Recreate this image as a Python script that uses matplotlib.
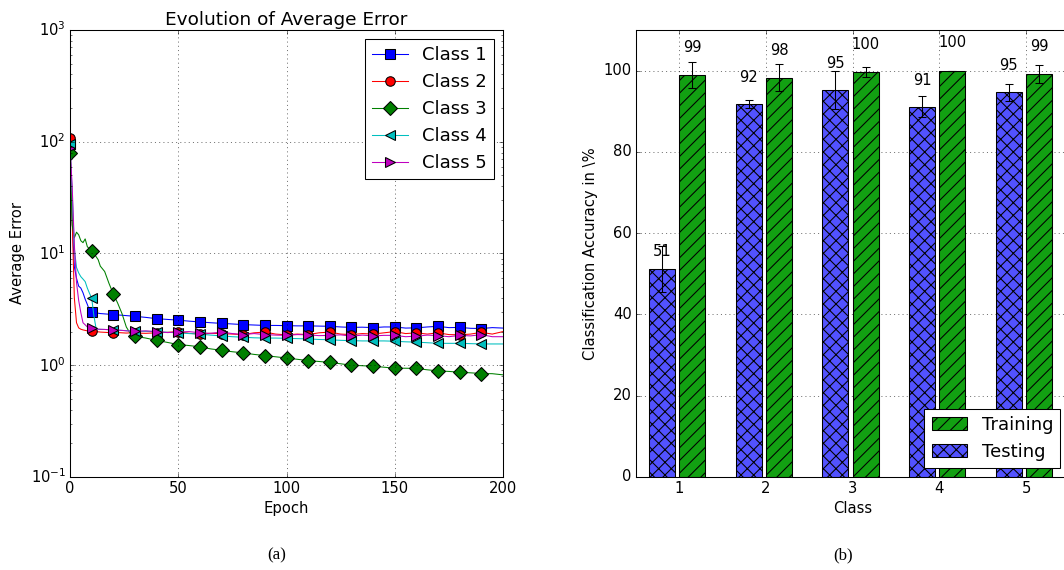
import matplotlib
matplotlib.use("Agg")
import matplotlib.pyplot as plt

plt.style.use("classic")
plt.rcParams.update({
    "font.family": ["DejaVu Sans"],
    "figure.facecolor": "white",
    "savefig.facecolor": "white",
    "hatch.linewidth": 1.0,
})

# ── data: average error per epoch ────────────────────────────────
epochs = [0, 1, 2, 3, 4, 5, 6, 7, 8, 9, 10, 11, 12, 13, 14, 16, 18, 20, 22, 24, 26, 28, 30,
          35, 40, 45, 50, 55, 60, 65, 70, 75, 80, 85, 90, 95, 100, 105, 110, 115, 120,
          125, 130, 135, 140, 145, 150, 155, 160, 165, 170, 175, 180, 185, 190, 195, 200]

err_class1 = [95, 20, 7.6, 6.0, 5.1, 4.9, 4.45, 3.9, 3.5, 3.1, 2.97, 2.95, 2.93, 2.92, 2.9,
              2.88, 2.86, 2.84, 2.82, 2.8, 2.78, 2.76, 2.74,
              2.68, 2.61, 2.57, 2.53, 2.48, 2.44, 2.4, 2.37, 2.34, 2.31, 2.29, 2.27, 2.27,
              2.26, 2.25, 2.25, 2.24, 2.23, 2.2, 2.18, 2.19, 2.17, 2.2, 2.2, 2.15, 2.16,
              2.2, 2.23, 2.17, 2.18, 2.14, 2.13, 2.17, 2.15]
err_class2 = [108, 20, 4.0, 2.4, 2.16, 2.1, 2.07, 2.05, 2.03, 2.02, 2.02, 2.0, 2.0, 1.99, 1.98,
              1.97, 1.96, 1.95, 1.96, 1.95, 1.94, 1.95, 1.94,
              1.93, 1.95, 1.97, 2.0, 1.93, 1.9, 1.93, 1.92, 1.9, 1.88, 1.95, 1.98, 1.9,
              1.87, 1.9, 1.88, 1.95, 1.98, 1.9, 1.88, 1.92, 1.9, 1.95, 2.0, 1.92, 1.95,
              1.9, 1.95, 1.88, 1.87, 1.9, 1.97, 1.9, 2.0]
err_class3 = [79, 18, 13.8, 15.5, 14.7, 13.0, 12.5, 13.5, 11.5, 11.0, 10.6, 10.0, 9.4, 8.8, 7.7,
              6.9, 5.4, 4.34, 3.6, 2.9, 2.2, 1.9, 1.82,
              1.75, 1.67, 1.6, 1.53, 1.5, 1.46, 1.4, 1.36, 1.32, 1.29, 1.25, 1.22, 1.19,
              1.16, 1.13, 1.1, 1.08, 1.06, 1.03, 1.0, 0.99, 0.98, 0.96, 0.94, 0.94, 0.935,
              0.91, 0.89, 0.88, 0.866, 0.855, 0.843, 0.84, 0.82]
err_class4 = [95, 35, 11, 7.5, 6.7, 6.2, 5.9, 5.6, 4.9, 4.4, 4.0, 2.8, 2.15, 2.1, 2.09,
              2.09, 2.08, 2.08, 2.06, 2.05, 2.04, 2.03, 2.02,
              2.01, 2.0, 1.97, 1.95, 1.92, 1.9, 1.86, 1.83, 1.8, 1.78, 1.76, 1.75, 1.75,
              1.74, 1.73, 1.72, 1.7, 1.69, 1.67, 1.66, 1.65, 1.65, 1.65, 1.64, 1.62, 1.61,
              1.59, 1.57, 1.57, 1.57, 1.56, 1.55, 1.55, 1.55]
err_class5 = [88, 40, 12, 5.5, 3.8, 2.95, 2.4, 2.3, 2.2, 2.17, 2.14, 2.12, 2.11, 2.1, 2.1,
              2.09, 2.08, 2.08, 2.06, 2.05, 2.03, 2.02, 2.01,
              2.03, 2.0, 1.96, 1.98, 2.0, 1.95, 1.93, 1.98, 1.92, 1.88, 1.92, 1.88, 1.86,
              1.85, 1.88, 1.87, 1.84, 1.85, 1.87, 1.82, 1.86, 1.83, 1.85, 1.85, 1.8, 1.82,
              1.86, 1.84, 1.8, 1.85, 1.83, 1.88, 1.8, 1.8]

series_labels = ["Class 1", "Class 2", "Class 3", "Class 4", "Class 5"]

# ── data: classification accuracy ────────────────────────────────
classes = [1, 2, 3, 4, 5]
test_acc = [51.2, 91.8, 95.2, 91.1, 94.7]
test_err = [5.6, 1.0, 4.7, 2.6, 2.1]
train_acc = [98.8, 98.3, 99.7, 100.0, 99.2]
train_err = [3.2, 3.4, 1.2, 0.0, 2.3]

# ── figure ───────────────────────────────────────────────────────
fig = plt.figure(figsize=(14.0, 7.5), dpi=76)
ax1 = fig.add_axes([0.0658, 0.1632, 0.4070, 0.7842])
ax2 = fig.add_axes([0.5977, 0.1632, 0.4074, 0.7842])

# 左图：误差曲线
styles = [("b", "s"), ("r", "o"), ("g", "D"), ("c", "<"), ("m", ">")]
mark_idx = [i for i, e in enumerate(epochs) if e % 10 == 0 and e < 200]
for ys, lab, (col, mk) in zip([err_class1, err_class2, err_class3, err_class4, err_class5],
                              series_labels, styles):
    ax1.plot(epochs, ys, color=col, marker=mk, markersize=9, markeredgecolor="k",
             markeredgewidth=1.0, linewidth=1.0, markevery=mark_idx, label=lab)

ax1.set_yscale("log")
ax1.set_xlim(0, 200)
ax1.set_ylim(0.1, 1000)
ax1.set_xticks([0, 50, 100, 150, 200])
ax1.grid(True, which="major", linestyle=":", color="k")
ax1.tick_params(labelsize=14)
ax1.set_xlabel("Epoch", fontsize=14)
ax1.set_ylabel("Average Error", fontsize=14)
ax1.set_title("Evolution of Average Error", fontsize=17.5)
ax1.legend(loc="upper right", numpoints=1, fontsize=17)

# 右图：分类准确率
w = 0.3
test_x = [c - 0.35 for c in classes]
train_x = [c for c in classes]
b_test = ax2.bar(test_x, test_acc, w, align="edge", color="#5252ff", edgecolor="k",
                 linewidth=1.0, hatch="xx", label="Testing", zorder=2)
b_train = ax2.bar(train_x, train_acc, w, align="edge", color="#12a012", edgecolor="k",
                  linewidth=1.0, hatch="//", label="Training", zorder=2)
ax2.errorbar([x + w / 2 for x in test_x], test_acc, yerr=test_err, fmt="none",
             ecolor="k", elinewidth=1.0, capsize=3.5, capthick=1.0, zorder=3)
ax2.errorbar([x + w / 2 for x in train_x], train_acc, yerr=train_err, fmt="none",
             ecolor="k", elinewidth=1.0, capsize=3.5, capthick=1.0, zorder=3)

for bars in (b_test, b_train):
    for rect in bars:
        h = rect.get_height()
        ax2.text(rect.get_x() + rect.get_width() / 2, 1.05 * h, "%d" % round(h),
                 ha="center", va="bottom", fontsize=14, zorder=4)

ax2.set_xlim(0.5, 5.5)
ax2.set_ylim(0, 110)
ax2.set_xticks(classes)
ax2.set_yticks([0, 20, 40, 60, 80, 100])
ax2.grid(True, linestyle=":", color="k")
ax2.set_axisbelow(True)
ax2.tick_params(labelsize=14)
ax2.set_xlabel("Class", fontsize=14)
ax2.set_ylabel(r"Classification Accuracy in \%", fontsize=14)
ax2.legend([b_train, b_test], ["Training", "Testing"], loc="lower right", fontsize=17)

# 子图编号
fig.text(277 / 1064, 1 - 555 / 570, "(a)", ha="center", va="center",
         fontsize=16, family="Liberation Serif")
fig.text(843 / 1064, 1 - 555 / 570, "(b)", ha="center", va="center",
         fontsize=16, family="Liberation Serif")

fig.savefig("out.png", dpi=76)
